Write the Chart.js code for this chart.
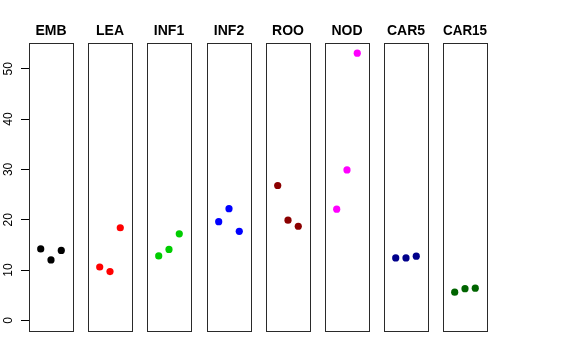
<!DOCTYPE html>
<html>
<head>
<meta charset="utf-8">
<script src="https://cdn.jsdelivr.net/npm/chart.js@4/dist/chart.umd.min.js"></script>
<style>
  html, body { margin: 0; padding: 0; background: #ffffff; }
  #wrap { position: relative; width: 576px; height: 360px; overflow: hidden; background: #fff; }
  #wrap canvas { position: absolute; top: 0; }
</style>
</head>
<body>
<div id="wrap"></div>
<script>
// ---- data ----
const panels = ['EMB', 'LEA', 'INF1', 'INF2', 'ROO', 'NOD', 'CAR5', 'CAR15'];
const colors = ['#000000', '#FF0000', '#00CD00', '#0000FF', '#8B0000', '#FF00FF', '#00008B', '#006400'];
const replicates = [1, 2, 3];
const EMB   = [14.2, 12.0, 13.9];
const LEA   = [10.6, 9.7, 18.4];
const INF1  = [12.8, 14.1, 17.2];
const INF2  = [19.6, 22.2, 17.7];
const ROO   = [26.8, 19.9, 18.7];
const NOD   = [22.1, 29.9, 53.1];
const CAR5  = [12.4, 12.4, 12.75];
const CAR15 = [5.6, 6.3, 6.4];
const yTicks = [0, 10, 20, 30, 40, 50];
const seriesValues = [EMB, LEA, INF1, INF2, ROO, NOD, CAR5, CAR15];

// ---- layout ----
const panelLefts = [29, 88, 147, 207, 266, 325, 384, 443];
const panelWidth = 44;
const padSide = 12;
const axisWidth = 29;

const boxPlugin = {
  id: 'panelBox',
  afterDatasetsDraw(chart) {
    const a = chart.chartArea;
    const ctx = chart.ctx;
    ctx.save();
    ctx.strokeStyle = '#2a2a2a';
    ctx.lineWidth = 1;
    ctx.strokeRect(Math.round(a.left) + 0.5, Math.round(a.top) + 0.5,
                   Math.round(a.right - a.left), Math.round(a.bottom - a.top));
    ctx.restore();
  }
};

const wrap = document.getElementById('wrap');
panels.forEach((name, i) => {
  const first = i === 0;
  const canvas = document.createElement('canvas');
  const left = first ? 0 : panelLefts[i] - padSide;
  const width = first ? panelLefts[0] + panelWidth + padSide : panelWidth + 2 * padSide;
  canvas.style.left = left + 'px';
  canvas.style.width = width + 'px';
  canvas.style.height = '360px';
  canvas.width = width;
  canvas.height = 360;
  wrap.appendChild(canvas);

  const yScale = {
    type: 'linear',
    display: first,
    min: -2.12,
    max: 55.12,
    afterBuildTicks: s => { s.ticks = yTicks.map(v => ({ value: v })); },
    border: { display: false },
    grid: { drawOnChartArea: false, drawTicks: true, tickLength: 8, color: '#000', tickColor: '#000' },
    ticks: {
      autoSkip: false,
      minRotation: 90,
      maxRotation: 90,
      crossAlign: 'center',
      padding: 6,
      color: '#000',
      font: { family: 'Liberation Sans, Arial, sans-serif', size: 12 }
    }
  };
  if (first) yScale.afterFit = s => { s.width = axisWidth; };

  new Chart(canvas, {
    type: 'scatter',
    data: {
      datasets: [{
        data: replicates.map((r, k) => ({ x: r, y: seriesValues[i][k] })),
        backgroundColor: colors[i],
        borderWidth: 0,
        pointRadius: 3.6,
        pointHoverRadius: 3.6
      }]
    },
    options: {
      responsive: false,
      animation: false,
      events: [],
      layout: { padding: { left: first ? 0 : padSide, right: padSide, top: 0, bottom: 29 } },
      plugins: {
        legend: { display: false },
        tooltip: { enabled: false },
        title: {
          display: true,
          text: name,
          fullSize: false,
          color: '#000',
          font: { family: 'Liberation Sans, Arial, sans-serif', size: 14, weight: 'bold', lineHeight: 1.2 },
          padding: { top: 22.6, bottom: 3.6 }
        }
      },
      scales: {
        x: { type: 'linear', display: false, min: -0.14, max: 4.14 },
        y: yScale
      }
    },
    plugins: [boxPlugin]
  });
});
</script>
</body>
</html>
